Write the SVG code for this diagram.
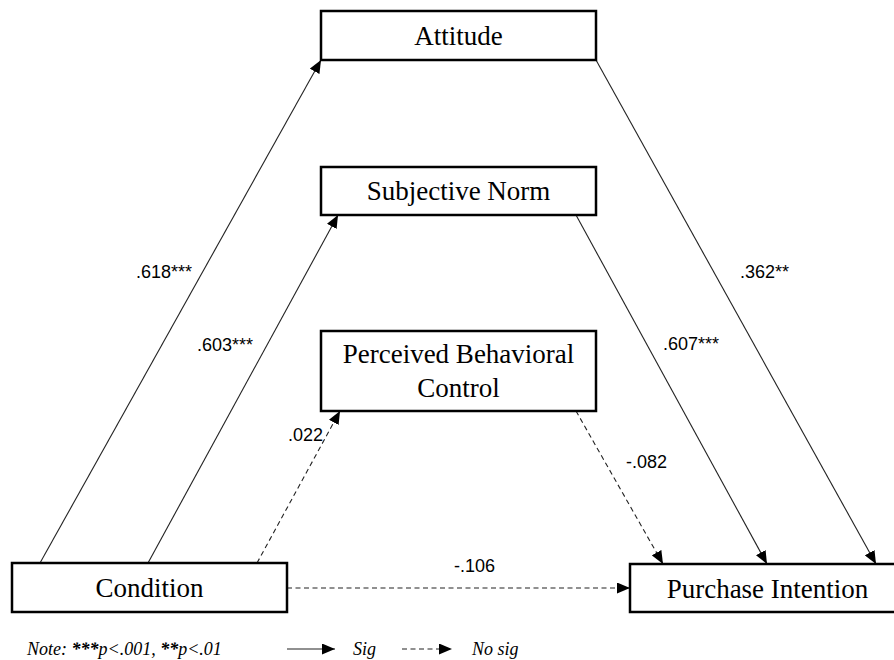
<svg xmlns="http://www.w3.org/2000/svg" width="894" height="660" viewBox="0 0 894 660">
<style>
.box{fill:#fff;stroke:#000;stroke-width:2.5}
.nt{font-family:"Liberation Serif","Times New Roman",serif;font-size:27px;fill:#000;text-anchor:middle}
.edge{stroke:#222;stroke-width:1.1;fill:none;marker-end:url(#ah)}
.dash{stroke-dasharray:5 3.5}
.lbl{font-family:"Liberation Sans",Arial,sans-serif;font-size:18px;fill:#000}
.leg{font-family:"Liberation Serif","Times New Roman",serif;font-size:18px;font-style:italic;fill:#000}
</style>
<defs>
<marker id="ah" markerUnits="userSpaceOnUse" markerWidth="13" markerHeight="11" refX="13" refY="5.5" orient="auto">
<path d="M0,0 L13,5.5 L0,11 z" fill="#000"/>
</marker>
</defs>
<rect width="894" height="660" fill="#fff"/>
<g id="connectors">
<line class="edge" x1="40" y1="563" x2="321" y2="60"/>
<line class="edge" x1="148" y1="563" x2="338" y2="215"/>
<line class="edge dash" x1="257" y1="563" x2="340" y2="411"/>
<line class="edge" x1="596" y1="60" x2="876" y2="564"/>
<line class="edge" x1="576" y1="215" x2="767" y2="564"/>
<line class="edge dash" x1="576" y1="411" x2="663" y2="564"/>
<line class="edge dash" x1="287" y1="588" x2="630" y2="588"/>
<text class="lbl" x="136" y="278">.618***</text>
<text class="lbl" x="197" y="351">.603***</text>
<text class="lbl" x="288" y="441">.022</text>
<text class="lbl" x="740" y="278">.362**</text>
<text class="lbl" x="663" y="350">.607***</text>
<text class="lbl" x="626" y="468">-.082</text>
<text class="lbl" x="454" y="572">-.106</text>
</g>
<g id="attitude">
<rect class="box" x="321" y="11" width="275" height="49"/>
<text class="nt" x="458.5" y="45">Attitude</text>
</g>
<g id="subjective-norm">
<rect class="box" x="321" y="167" width="275" height="48"/>
<text class="nt" x="458.5" y="200">Subjective Norm</text>
</g>
<g id="pbc">
<rect class="box" x="321" y="331" width="275" height="80"/>
<text class="nt" x="458.5" y="363">Perceived Behavioral</text>
<text class="nt" x="458.5" y="397">Control</text>
</g>
<g id="condition">
<rect class="box" x="12" y="563" width="275" height="49"/>
<text class="nt" x="149.5" y="597">Condition</text>
</g>
<g id="purchase-intention">
<rect class="box" x="630" y="564" width="275" height="48"/>
<text class="nt" x="767.5" y="598">Purchase Intention</text>
</g>
<g id="legend">
<text class="leg" x="27" y="655">Note: <tspan font-weight="bold">***</tspan>p&lt;.001, <tspan font-weight="bold">**</tspan>p&lt;.01</text>
<line class="edge" x1="287" y1="649" x2="335" y2="649"/>
<text class="leg" x="353" y="655">Sig</text>
<line class="edge dash" x1="402" y1="649" x2="452" y2="649"/>
<text class="leg" x="472" y="655">No sig</text>
</g>
</svg>
